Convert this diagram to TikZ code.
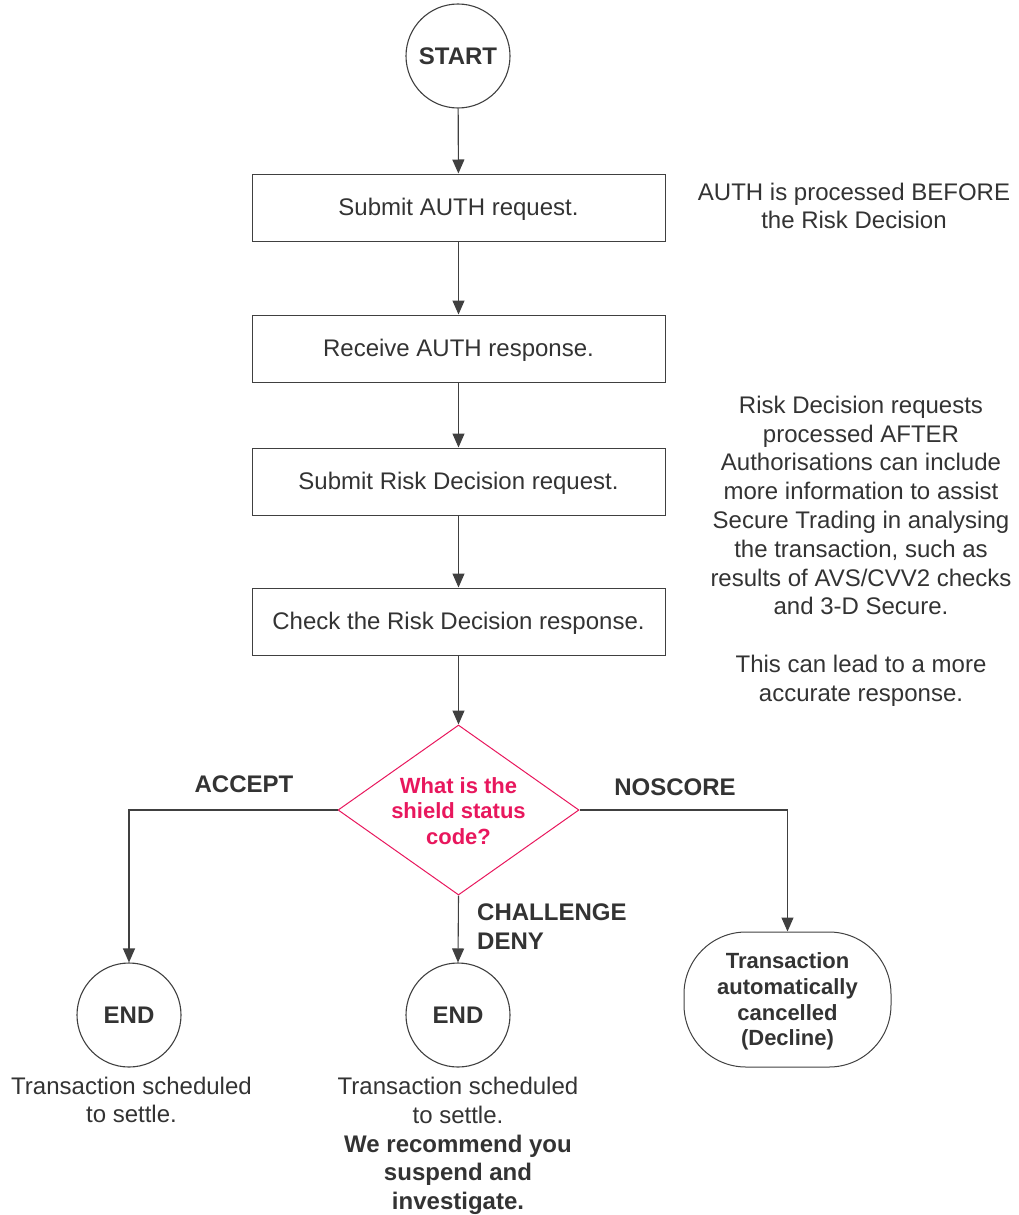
\documentclass[tikz,border=0pt]{standalone}
\usepackage{fontspec}
\setmainfont{Liberation Sans}
\usetikzlibrary{arrows.meta,shapes.geometric}
\definecolor{linec}{HTML}{404040}
\definecolor{textc}{HTML}{333333}
\definecolor{magc}{HTML}{E8175D}
\newcommand\normtxt{\fontsize{24}{28.8}\selectfont}
\newcommand\boldtxt{\fontsize{24}{28.8}\selectfont\bfseries}
\newcommand\smbold{\fontsize{22}{25.8}\selectfont\bfseries}
\tikzset{
  conn/.style={draw=linec, line width=1.1pt},
  arr/.style={conn, -{Triangle[width=12pt,length=14pt]}},
  procbox/.style={rectangle, draw=linec, line width=1pt, minimum width=413pt, minimum height=67pt, inner sep=0pt, font=\normtxt, text=textc, text height=17.6pt, text depth=1pt},
  term/.style={circle, draw=linec, line width=1.1pt, minimum size=104pt, inner sep=0pt, font=\boldtxt, text=textc},
  note/.style={align=center, font=\normtxt, text=textc, inner sep=0pt},
  lbl/.style={font=\boldtxt, text=textc, inner sep=0pt},
}
\begin{document}
\begin{tikzpicture}[x=1pt,y=-1pt]
\useasboundingbox (0,0) rectangle (1018,1215);
\node[term] (start) at (458,56) {START};
\node[procbox] (b1) at (458.5,207.5) {Submit AUTH request.};
\node[procbox] (b2) at (458.5,348.5) {Receive AUTH response.};
\node[procbox] (b3) at (458.5,481.5) {Submit Risk Decision request.};
\node[procbox] (b4) at (458.5,621.5) {Check the Risk Decision response.};
\node[diamond, draw=magc, line width=1pt, aspect=1.418, minimum width=241pt, minimum height=170pt, inner sep=0pt] (dia) at (458.5,810) {};
\node[align=center, font=\smbold, text=magc, inner sep=0pt] (diaT) at (458.5,811) {What is the\\shield status\\code?};
\node[term] (endL) at (129,1015) {END};
\node[term] (endM) at (458,1015) {END};
\node[rectangle, rounded corners=62pt, draw=linec, line width=1pt, minimum width=207pt, minimum height=135pt, inner sep=0pt, align=center, font=\smbold, text=textc] (decl) at (787.5,999.5) {};
\node[align=center, font=\smbold, text=textc, inner sep=0pt] (declT) at (787.5,1001.5) {Transaction\\automatically\\cancelled\\(Decline)};
\node[note] (n1) at (854,206) {AUTH is processed BEFORE\\the Risk Decision};
\node[note] (n2) at (861,551) {Risk Decision requests\\processed AFTER\\Authorisations can include\\more information to assist\\Secure Trading in analysing\\the transaction, such as\\results of AVS/CVV2 checks\\and 3-D Secure.\\[28.6pt]This can lead to a more\\accurate response.};
\node[lbl] (accept) at (244,784) {ACCEPT};
\node[lbl] (noscore) at (675,787) {NOSCORE};
\node[lbl, align=left, anchor=west] (chal) at (477,927) {CHALLENGE\\DENY};
\node[note] (tL) at (131.5,1100) {Transaction scheduled\\to settle.};
\node[note] (tM) at (458,1146) {Transaction scheduled\\to settle.\\\textbf{We recommend you}\\\textbf{suspend and}\\\textbf{investigate.}};
\draw[arr] (start) -- (b1);
\draw[arr] (b1) -- (b2);
\draw[arr] (b2) -- (b3);
\draw[arr] (b3) -- (b4);
\draw[arr] (b4) -- (dia.north);
\draw[arr] (dia.west) -| (endL.north);
\draw[arr] (dia.east) -| (decl.north);
\draw[arr] (dia.south) -- (endM.north);
\end{tikzpicture}
\end{document}
